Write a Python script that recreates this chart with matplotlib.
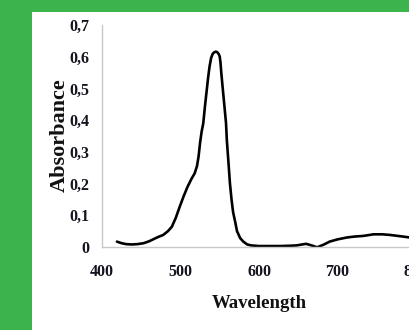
import matplotlib
matplotlib.use("Agg")
import matplotlib.pyplot as plt
from matplotlib.patches import Rectangle

# Absorption spectrum
wavelength = [419, 425, 431, 438, 445, 453, 460, 465, 471, 478, 484, 489, 494, 499,
              504, 509, 514, 518, 521, 523, 525, 527, 529, 531, 533, 535, 537, 539,
              541, 543, 545, 547, 549, 550, 551, 552, 554, 556, 558, 559, 561, 563,
              565, 567, 570, 572, 576, 580, 585, 590, 600, 615, 627, 640, 648, 655,
              660, 667, 674, 682, 690, 700, 712, 722, 733, 746, 757, 767, 780, 792, 800]
absorbance = [0.017, 0.012, 0.009, 0.008, 0.009, 0.012, 0.018, 0.024, 0.031, 0.038,
              0.05, 0.064, 0.092, 0.127, 0.16, 0.19, 0.215, 0.232, 0.255, 0.285,
              0.33, 0.365, 0.39, 0.44, 0.485, 0.53, 0.569, 0.596, 0.609, 0.614,
              0.616, 0.614, 0.607, 0.6, 0.58, 0.548, 0.495, 0.443, 0.39, 0.338,
              0.27, 0.2, 0.15, 0.11, 0.075, 0.05, 0.028, 0.017, 0.008, 0.005, 0.003,
              0.003, 0.003, 0.004, 0.005, 0.008, 0.01, 0.005, -0.001, 0.007, 0.017,
              0.024, 0.03, 0.033, 0.035, 0.04, 0.04, 0.038, 0.034, 0.03, 0.03]

yticks = [0, 0.1, 0.2, 0.3, 0.4, 0.5, 0.6, 0.7]
ytick_labels = ["0", "0,1", "0,2", "0,3", "0,4", "0,5", "0,6", "0,7"]
xticks = [400, 500, 600, 700, 800]

W, H = 410, 330
fig = plt.figure(figsize=(W / 100, H / 100), dpi=100)
fig.patch.set_facecolor("#3cb44b")
# white panel inside the green frame
fig.add_artist(Rectangle((32 / W, 0), 1, 1 - 12 / H, transform=fig.transFigure,
                         facecolor="white", edgecolor="none", zorder=0))

ax = fig.add_axes([102 / W, 83 / H, (416 - 102) / W, (247 - 25) / H])
ax.patch.set_alpha(0)
ax.plot(wavelength, absorbance, color="black", linewidth=1.9,
        solid_capstyle="round", solid_joinstyle="round")

ax.set_xlim(400, 800)
ax.set_ylim(0, 0.7)
ax.set_xticks(xticks)
ax.set_yticks(yticks)
ax.set_yticklabels(ytick_labels)

serif = {"family": "Liberation Serif", "weight": "bold"}
for lab in ax.get_xticklabels() + ax.get_yticklabels():
    lab.set_fontfamily("Liberation Serif")
    lab.set_fontweight("bold")
    lab.set_fontsize(11.5)
    lab.set_color("#141420")
ax.tick_params(axis="both", length=0)
ax.tick_params(axis="y", pad=9)
ax.tick_params(axis="x", pad=12)

for side in ["top", "right"]:
    ax.spines[side].set_visible(False)
for side in ["left", "bottom"]:
    ax.spines[side].set_color("#c8c8c8")
    ax.spines[side].set_linewidth(1.0)

fig.text(259 / W, 1 - 303 / H, "Wavelength", fontdict=serif, fontsize=13.5,
         ha="center", va="center", color="#111111")
fig.text(60 / W, 1 - 135 / H, "Absorbance", fontdict=serif, fontsize=16,
         ha="center", va="center", rotation=90, color="#111111")

fig.savefig("out.png", dpi=100, facecolor=fig.get_facecolor())
